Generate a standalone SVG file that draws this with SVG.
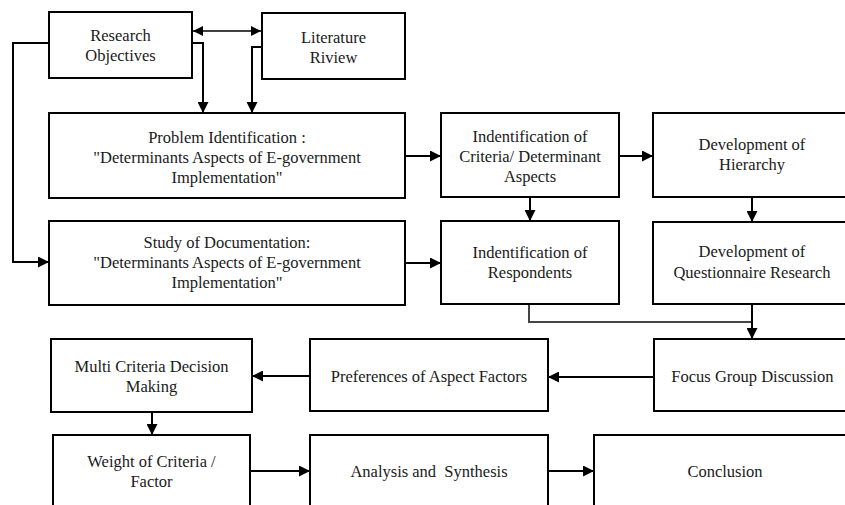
<svg xmlns="http://www.w3.org/2000/svg" width="845" height="505" viewBox="0 0 845 505">
<style>
.box{fill:#fff;stroke:#000;stroke-width:2}
.t{font-size:16.5px;fill:#1a1a1a;text-anchor:middle}
.c{fill:none;stroke:#000;stroke-width:2}
.c1{fill:none;stroke:#000;stroke-width:1.3}
.g{fill:none;stroke:#444;stroke-width:2}
</style>
<defs>
<marker id="ah" viewBox="0 0 10 10" refX="10" refY="5" markerWidth="11" markerHeight="11" markerUnits="userSpaceOnUse" orient="auto"><path d="M0,0 L10,5 L0,10 z" fill="#000"/></marker>
<marker id="ah2" viewBox="0 0 10 10" refX="10" refY="5" markerWidth="10" markerHeight="10" markerUnits="userSpaceOnUse" orient="auto-start-reverse"><path d="M0,0 L10,5 L0,10 z" fill="#000"/></marker>
</defs>
<rect width="845" height="505" fill="#fff"/>
<g id="connectors">
<line class="c1" x1="193" y1="31" x2="261" y2="31" marker-start="url(#ah2)" marker-end="url(#ah2)"/>
<polyline class="c" points="192,43 203,43 203,113" marker-end="url(#ah)"/>
<polyline class="c" points="262,47 252,47 252,113" marker-end="url(#ah)"/>
<polyline class="c" points="49,43 13,43 13,262 49,262" marker-end="url(#ah)"/>
<line class="c" x1="405" y1="156" x2="441" y2="156" marker-end="url(#ah)"/>
<line class="c" x1="619" y1="156" x2="653" y2="156" marker-end="url(#ah)"/>
<line class="c" x1="530" y1="197" x2="530" y2="221" marker-end="url(#ah)"/>
<line class="c" x1="752" y1="197" x2="752" y2="222" marker-end="url(#ah)"/>
<line class="c" x1="405" y1="263" x2="441" y2="263" marker-end="url(#ah)"/>
<polyline class="g" points="529,304 529,322 752,322"/>
<line class="c" x1="752" y1="304" x2="752" y2="339" marker-end="url(#ah)"/>
<line class="c" x1="654" y1="377" x2="548" y2="377" marker-end="url(#ah)"/>
<line class="c" x1="310" y1="376" x2="252" y2="376" marker-end="url(#ah)"/>
<line class="c" x1="152" y1="412" x2="152" y2="435" marker-end="url(#ah)"/>
<line class="c" x1="250" y1="471" x2="310" y2="471" marker-end="url(#ah)"/>
<line class="c" x1="548" y1="471" x2="594" y2="471" marker-end="url(#ah)"/>
</g>
<g id="nodes" font-family="Liberation Serif, Times New Roman, DejaVu Serif, serif">
<g id="research-objectives"><rect class="box" x="49" y="12" width="143" height="66"/><text class="t" x="120.5" y="41">Research</text><text class="t" x="120.5" y="61">Objectives</text></g>
<g id="literature-review"><rect class="box" x="262" y="13" width="143" height="66"/><text class="t" x="333.5" y="43">Literature</text><text class="t" x="333.5" y="63">Riview</text></g>
<g id="problem-identification"><rect class="box" x="49" y="113" width="356" height="85"/><text class="t" x="227" y="143">Problem Identification :</text><text class="t" x="227" y="163">"Determinants Aspects of E-government</text><text class="t" x="227" y="183">Implementation"</text></g>
<g id="study-documentation"><rect class="box" x="49" y="221" width="356" height="84"/><text class="t" x="227" y="248">Study of Documentation:</text><text class="t" x="227" y="268">"Determinants Aspects of E-government</text><text class="t" x="227" y="288">Implementation"</text></g>
<g id="identification-criteria"><rect class="box" x="441" y="113" width="178" height="84"/><text class="t" x="530" y="142">Indentification of</text><text class="t" x="530" y="162">Criteria/ Determinant</text><text class="t" x="530" y="182">Aspects</text></g>
<g id="development-hierarchy"><rect class="box" x="653" y="113" width="198" height="84"/><text class="t" x="752" y="150">Development of</text><text class="t" x="752" y="170">Hierarchy</text></g>
<g id="identification-respondents"><rect class="box" x="441" y="221" width="178" height="83"/><text class="t" x="530" y="258">Indentification of</text><text class="t" x="530" y="278">Respondents</text></g>
<g id="development-questionnaire"><rect class="box" x="653" y="222" width="198" height="82"/><text class="t" x="752" y="257">Development of</text><text class="t" x="752" y="278">Questionnaire Research</text></g>
<g id="multi-criteria"><rect class="box" x="51" y="339" width="201" height="73"/><text class="t" x="151.5" y="372">Multi Criteria Decision</text><text class="t" x="151.5" y="392">Making</text></g>
<g id="preferences"><rect class="box" x="310" y="339" width="238" height="72"/><text class="t" x="429" y="382">Preferences of Aspect Factors</text></g>
<g id="focus-group"><rect class="box" x="654" y="339" width="197" height="72"/><text class="t" x="752.5" y="382">Focus Group Discussion</text></g>
<g id="weight-criteria"><rect class="box" x="53" y="435" width="197" height="80"/><text class="t" x="151.5" y="467">Weight of Criteria /</text><text class="t" x="151.5" y="487">Factor</text></g>
<g id="analysis-synthesis"><rect class="box" x="310" y="435" width="238" height="80"/><text class="t" x="429" y="477" xml:space="preserve">Analysis and  Synthesis</text></g>
<g id="conclusion"><rect class="box" x="594" y="435" width="262" height="80"/><text class="t" x="725" y="477">Conclusion</text></g>
</g>
</svg>
